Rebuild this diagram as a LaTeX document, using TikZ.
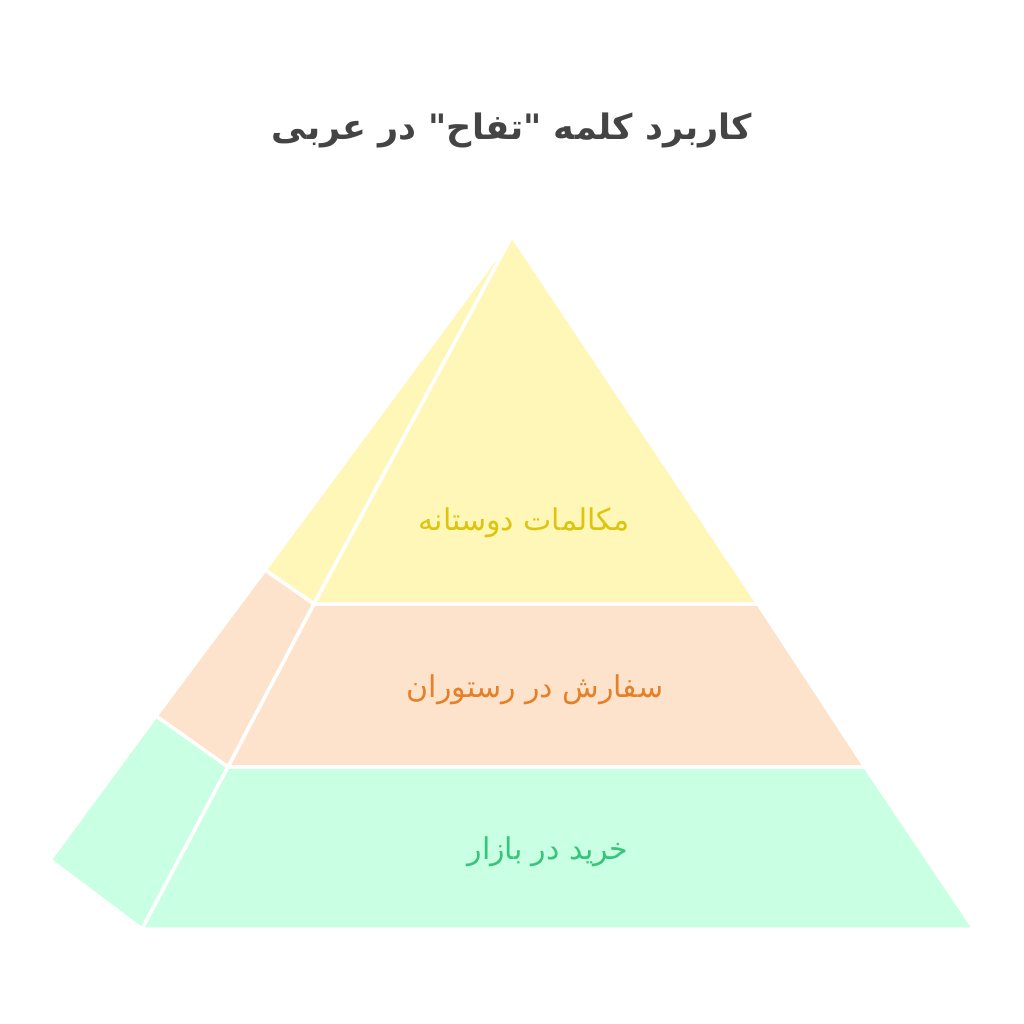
\documentclass[tikz,border=0pt]{standalone}
\usepackage{fontspec}
\usepackage{xcolor}
\usepackage{tikz}
\usetikzlibrary{positioning}
\TeXXeTstate=1
\newfontfamily\arabicfont[Script=Arabic]{DejaVu Sans}

\definecolor{topfill}{RGB}{255,247,184}
\definecolor{midfill}{RGB}{254,227,204}
\definecolor{lowfill}{RGB}{201,255,226}
\definecolor{toptext}{RGB}{222,196,14}
\definecolor{midtext}{RGB}{230,128,40}
\definecolor{lowtext}{RGB}{56,196,124}
\definecolor{titletext}{RGB}{68,68,68}

\tikzset{
  face/.style={draw=white, line width=3.5pt, line join=miter},
  label/.style={font=\arabicfont\fontsize{30}{34}\selectfont, inner sep=0pt},
}

\begin{document}
\begin{tikzpicture}[x=1pt, y=-1pt]
            \useasboundingbox (0,0) rectangle (1024,1024);

            % corners of the pyramid
            \coordinate (apex) at (512,236);
            \coordinate (fl1) at (314,604);
            \coordinate (fl2) at (228,767);
            \coordinate (fl3) at (142,929);
            \coordinate (fr1) at (758,604);
            \coordinate (fr2) at (865,767);
            \coordinate (fr3) at (974,929);
            \coordinate (sl1) at (265,570);
            \coordinate (sl2) at (156,716);
            \coordinate (sl3) at (50,860);

            % side face
            \filldraw [face, fill=topfill] (apex) -- (sl1) -- (fl1) -- cycle;
            \filldraw [face, fill=midfill] (sl1) -- (sl2) -- (fl2) -- (fl1) -- cycle;
            \filldraw [face, fill=lowfill] (sl2) -- (sl3) -- (fl3) -- (fl2) -- cycle;

            % front face
            \filldraw [face, fill=topfill] (apex) -- (fl1) -- (fr1) -- cycle;
            \filldraw [face, fill=midfill] (fl1) -- (fl2) -- (fr2) -- (fr1) -- cycle;
            \filldraw [face, fill=lowfill] (fl2) -- (fl3) -- (fr3) -- (fr2) -- cycle;

            \node (title) at (512,130) {\arabicfont\bfseries\fontsize{35}{40}\selectfont\color{titletext}\beginR کاربرد کلمه "تفاح" در عربی\endR};

            \node [label, text=toptext] (talk) at (524,523) {\beginR مکالمات دوستانه\endR};
            \node [label, text=midtext] (order) at (535,690) {\beginR سفارش در رستوران\endR};
            \node [label, text=lowtext] (shop) at (548,852) {\beginR خرید در بازار\endR};
\end{tikzpicture}
\end{document}
